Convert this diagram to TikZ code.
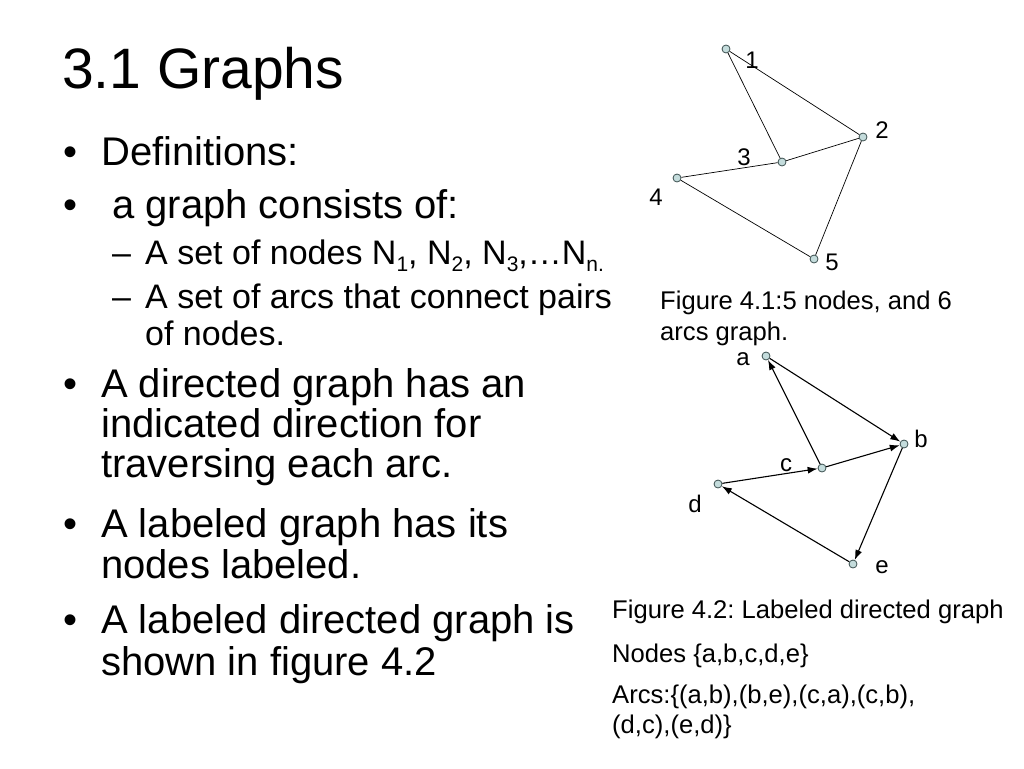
\documentclass[tikz,border=0pt]{standalone}
\usepackage{fontspec}
\setmainfont{Liberation Sans}
\usepackage{xcolor}
\usetikzlibrary{positioning}
\usetikzlibrary{arrows.meta}
\definecolor{vertfill}{RGB}{196,220,220}
\definecolor{vertline}{RGB}{60,80,80}
\newcommand{\nsub}[1]{\raisebox{-7pt}{\fontsize{21}{22}\selectfont #1}}
\frenchspacing

\begin{document}
\begin{tikzpicture}[x=1pt,y=-1pt,on grid,
    every node/.style={inner sep=0pt},
    title/.style={anchor=base west,font=\fontsize{57}{60}\selectfont},
    body/.style={anchor=base west,font=\fontsize{40}{48}\selectfont},
    sub/.style={anchor=base west,font=\fontsize{34}{40}\selectfont},
    figcap/.style={anchor=base west,font=\fontsize{25.6}{30}\selectfont},
    lbl/.style={font=\fontsize{24}{26}\selectfont},
    vert/.style={circle,draw=vertline,fill=vertfill,minimum size=8pt,line width=0.8pt},
    arc/.style={line width=0.7pt},
    darc/.style={line width=1.1pt,-{Latex[length=10pt,width=7pt]}}]

        \useasboundingbox (0,0) rectangle (1024,768);

        % left column
        \node[title] (t) at (62,88) {3.1 Graphs};

        \node[body] (b1) at (63,165) {•};
        \node[body] (d1) at (101,165) {Definitions:};
        \node[body] (b2) at (63,218) {•};
        \node[body] (d2) at (112,218) {a graph consists of:};
        \node[sub] (s1) at (112,264) {–};
        \node[sub] (d3) at (145,264) {A set of nodes N\nsub{1}, N\nsub{2}, N\nsub{3},…N\nsub{n.}};
        \node[sub] (s2) at (112,308) {–};
        \node[sub] (d4) at (145,308) {A set of arcs that connect pairs};
        \node[sub] (d5) at (145,345) {of nodes.};

        \node[body] (b3) at (63,397) {•};
        \node[body] (d6) at (101,397) {A directed graph has an};
        \node[body] (d7) at (101,437) {indicated direction for};
        \node[body] (d8) at (101,477) {traversing each arc.};
        \node[body] (b4) at (63,537) {•};
        \node[body] (d9) at (101,537) {A labeled graph has its};
        \node[body] (d10) at (101,578) {nodes labeled.};
        \node[body] (b5) at (63,633) {•};
        \node[body] (d11) at (101,633) {A labeled directed graph is};
        \node[body] (d12) at (101,675) {shown in figure 4.2};

        % figure 4.1
        \node[vert] (n1) at (726,49) {};
        \node[vert] (n2) at (863,137) {};
        \node[vert] (n3) at (782,162) {};
        \node[vert] (n4) at (677,178) {};
        \node[vert] (n5) at (814,259) {};

        \node[lbl] (l1) [right=26pt of n1, yshift=-11pt] {1};
        \node[lbl] (l2) [right=19pt of n2, yshift=7pt] {2};
        \node[lbl] (l3) [left=38pt of n3, yshift=5pt] {3};
        \node[lbl] (l4) [left=21pt of n4, yshift=-19pt] {4};
        \node[lbl] (l5) [right=18pt of n5, yshift=-3pt] {5};

        \path [arc]
          (n1) edge (n2)
          (n1) edge (n3)
          (n3) edge (n2)
          (n4) edge (n3)
          (n4) edge (n5)
          (n2) edge (n5);

        \node[figcap] (f1) at (660,309) {Figure 4.1:5 nodes, and 6};
        \node[figcap] (f1b) at (660,340) {arcs graph.};

        % figure 4.2
        \node[vert] (na) at (766,356) {};
        \node[vert] (nb) at (904,444) {};
        \node[vert] (nc) at (822,468) {};
        \node[vert] (nd) at (718,484) {};
        \node[vert] (ne) at (853,564) {};

        \node[lbl] (la) [left=23pt of na, yshift=-3pt] {a};
        \node[lbl] (lb) [right=17pt of nb, yshift=5pt] {b};
        \node[lbl] (lc) [left=36pt of nc, yshift=3pt] {c};
        \node[lbl] (ld) [left=23pt of nd, yshift=-20pt] {d};
        \node[lbl] (le) [right=29pt of ne, yshift=-3pt] {e};

        \path [darc]
          (na) edge (nb)
          (nb) edge (ne)
          (nc) edge (na)
          (nc) edge (nb)
          (nd) edge (nc)
          (ne) edge (nd);

        \node[figcap] (f2) at (612,618) {Figure 4.2: Labeled directed graph};
        \node[figcap] (f2n) at (612,662) {Nodes \{a,b,c,d,e\}};
        \node[figcap] (f2a) at (612,703) {Arcs:\{(a,b),(b,e),(c,a),(c,b),};
        \node[figcap] (f2b) at (612,733) {(d,c),(e,d)\}};

\end{tikzpicture}
\end{document}
